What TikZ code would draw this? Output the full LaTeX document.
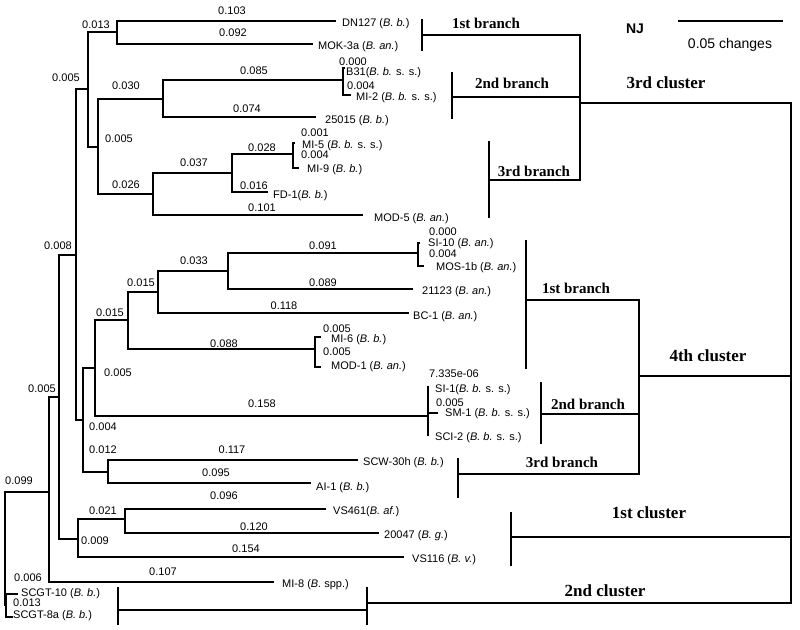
\documentclass[tikz,border=0pt]{standalone}
\usepackage{fontspec}
\setmainfont{Liberation Sans}
\newfontfamily\clfont{Liberation Serif}

\begin{document}
\begin{tikzpicture}[x=1pt,y=-1pt,
  br/.style={line width=1.1pt,line cap=rect},
  cl/.style={line width=2.3pt,line cap=rect},
  len/.style={font=\fontsize{11}{12}\selectfont,inner sep=0pt},
  leaf/.style={font=\fontsize{11}{12}\selectfont,anchor=west,inner sep=0pt},
  blab/.style={font=\clfont\bfseries\fontsize{15}{16}\selectfont,inner sep=0pt},
  clab/.style={font=\clfont\bfseries\fontsize{17}{18}\selectfont,inner sep=0pt}]
\useasboundingbox (0,0) rectangle (800,629);
% inner nodes of the tree
\coordinate (root) at (5,548);
\coordinate (n49) at (49,492);
\coordinate (nSC) at (6,605);
\coordinate (n59) at (59,397);
\coordinate (n76) at (76,255);
\coordinate (n78) at (78,539);
\coordinate (n88) at (88,89);
\coordinate (n83) at (83,420);
\coordinate (n117) at (117,32);
\coordinate (n98) at (98,147);
\coordinate (n163) at (163,99);
\coordinate (n153) at (153,194);
\coordinate (nB31) at (343,80);
\coordinate (n232) at (232,173);
\coordinate (n293) at (293,154);
\coordinate (n95) at (95,368);
\coordinate (n108) at (108,472);
\coordinate (n128) at (128,320);
\coordinate (nSM) at (428,416);
\coordinate (n158) at (158,292);
\coordinate (nMI6) at (315,349);
\coordinate (n228) at (228,271);
\coordinate (nSI10) at (418,253);
\coordinate (n125) at (125,519);
% leaf ends
\coordinate (SCGT10) at (17,594);
\coordinate (SCGT8a) at (12,617);
\coordinate (MI8) at (273,582);
\coordinate (DN127) at (335,21);
\coordinate (MOK3a) at (312,44);
\coordinate (B31) at (344,68);
\coordinate (MI2) at (350,95);
\coordinate (L25015) at (315,117);
\coordinate (MOD5) at (362,215);
\coordinate (FD1) at (267,192);
\coordinate (MI5) at (294,143);
\coordinate (MI9) at (298,168);
\coordinate (BC1) at (408,313);
\coordinate (L21123) at (412,289);
\coordinate (SI10) at (419,243);
\coordinate (MOS1b) at (423,266);
\coordinate (MI6) at (320,337);
\coordinate (MOD1) at (320,367);
\coordinate (SI1) at (428,387);
\coordinate (SM1) at (437,413);
\coordinate (SCI2) at (428,435);
\coordinate (SCW30h) at (357,460);
\coordinate (AI1) at (310,483);
\coordinate (VS116) at (403,557);
\coordinate (VS461) at (325,509);
\coordinate (L20047) at (378,533);

% branches
\draw[br] (root) |- (n49) (root) |- (nSC)
  (nSC) |- (SCGT10) (nSC) |- (SCGT8a)
  (n49) |- (n59) (n49) |- (MI8)
  (n59) |- (n76) (n59) |- (n78)
  (n76) |- (n88) (n76) |- (n83)
  (n88) |- (n117) (n88) |- (n98)
  (n117) |- (DN127) (n117) |- (MOK3a)
  (n98) |- (n163) (n98) |- (n153)
  (n163) |- (nB31) (n163) |- (L25015)
  (nB31) |- (B31) (nB31) |- (MI2)
  (n153) |- (n232) (n153) |- (MOD5)
  (n232) |- (n293) (n232) |- (FD1)
  (n293) |- (MI5) (n293) |- (MI9)
  (n83) |- (n95) (n83) |- (n108)
  (n95) |- (n128) (n95) |- (nSM)
  (n128) |- (n158) (n128) |- (nMI6)
  (n158) |- (n228) (n158) |- (BC1)
  (n228) |- (nSI10) (n228) |- (L21123)
  (nSI10) |- (SI10) (nSI10) |- (MOS1b)
  (nMI6) |- (MI6) (nMI6) |- (MOD1)
  (nSM) |- (SI1) (nSM) |- (SM1) (nSM) |- (SCI2)
  (n108) |- (SCW30h) (n108) |- (AI1)
  (n78) |- (n125) (n78) |- (VS116)
  (n125) |- (VS461) (n125) |- (L20047);

% branch lengths
\node[len] (l01) at (232,11) {0.103};
\node[len] (l02) at (233,33) {0.092};
\node[len] (l03) at (96,25) {0.013};
\node[len] (l04) at (66,78) {0.005};
\node[len] (l05) at (254,71) {0.085};
\node[len] (l06) at (126,86) {0.030};
\node[len] (l07) at (247,109) {0.074};
\node[len] (l08) at (119,139) {0.005};
\node[len] (l09) at (262,148) {0.028};
\node[len] (l10) at (194,163) {0.037};
\node[len] (l11) at (126,185) {0.026};
\node[len] (l12) at (254,186) {0.016};
\node[len] (l13) at (262,208) {0.101};
\node[len] (l14) at (353,62) {0.000};
\node[len] (l15) at (361,86) {0.004};
\node[len] (l16) at (315,133) {0.001};
\node[len] (l17) at (315,155) {0.004};
\node[len] (l18) at (58,246) {0.008};
\node[len] (l19) at (194,261) {0.033};
\node[len] (l20) at (141,283) {0.015};
\node[len] (l21) at (110,313) {0.015};
\node[len] (l22) at (284,306) {0.118};
\node[len] (l23) at (224,344) {0.088};
\node[len] (l24) at (118,373) {0.005};
\node[len] (l25) at (262,404) {0.158};
\node[len] (l26) at (42,389) {0.005};
\node[len] (l27) at (103,427) {0.004};
\node[len] (l28) at (323,246) {0.091};
\node[len] (l29) at (323,283) {0.089};
\node[len] (l30) at (443,232) {0.000};
\node[len] (l31) at (443,254) {0.004};
\node[len] (l32) at (337,329) {0.005};
\node[len] (l33) at (337,352) {0.005};
\node[len] (l34) at (454,374) {7.335e-06};
\node[len] (l35) at (450,403) {0.005};
\node[len] (l36) at (103,450) {0.012};
\node[len] (l37) at (232,450) {0.117};
\node[len] (l38) at (216,473) {0.095};
\node[len] (l39) at (19,481) {0.099};
\node[len] (l40) at (224,496) {0.096};
\node[len] (l41) at (103,511) {0.021};
\node[len] (l42) at (254,527) {0.120};
\node[len] (l43) at (95,541) {0.009};
\node[len] (l44) at (246,549) {0.154};
\node[len] (l45) at (163,572) {0.107};
\node[len] (l46) at (28,578) {0.006};
\node[len] (l47) at (27,603) {0.013};

% strain names
\node[leaf] (tDN127) at (342,24) {DN127 (\textit{B. b.})};
\node[leaf] (tMOK3a) at (318,47) {MOK-3a (\textit{B. an.})};
\node[leaf] (tB31) at (346,73) {B31(\textit{B. b.} s. s.)};
\node[leaf] (tMI2) at (356,98) {MI-2 (\textit{B. b.} s. s.)};
\node[leaf] (t25015) at (325,121) {25015 (\textit{B. b.})};
\node[leaf] (tMI5) at (302,146) {MI-5 (\textit{B. b.} s. s.)};
\node[leaf] (tMI9) at (307,170) {MI-9 (\textit{B. b.})};
\node[leaf] (tFD1) at (273,196) {FD-1(\textit{B. b.})};
\node[leaf] (tMOD5) at (374,219) {MOD-5 (\textit{B. an.})};
\node[leaf] (tSI10) at (428,244) {SI-10 (\textit{B. an.})};
\node[leaf] (tMOS1b) at (436,268) {MOS-1b (\textit{B. an.})};
\node[leaf] (t21123) at (422,292) {21123 (\textit{B. an.})};
\node[leaf] (tBC1) at (413,317) {BC-1 (\textit{B. an.})};
\node[leaf] (tMI6) at (331,340) {MI-6 (\textit{B. b.})};
\node[leaf] (tMOD1) at (331,367) {MOD-1 (\textit{B. an.})};
\node[leaf] (tSI1) at (435,390) {SI-1(\textit{B. b.} s. s.)};
\node[leaf] (tSM1) at (445,414) {SM-1 (\textit{B. b.} s. s.)};
\node[leaf] (tSCI2) at (435,438) {SCI-2 (\textit{B. b.} s. s.)};
\node[leaf] (tSCW30h) at (363,463) {SCW-30h (\textit{B. b.})};
\node[leaf] (tAI1) at (316,488) {AI-1 (\textit{B. b.})};
\node[leaf] (tVS461) at (333,512) {VS461(\textit{B. af.})};
\node[leaf] (t20047) at (384,536) {20047 (\textit{B. g.})};
\node[leaf] (tVS116) at (412,560) {VS116 (\textit{B. v.})};
\node[leaf] (tMI8) at (282,585) {MI-8 (\textit{B.} spp.)};
\node[leaf] (tSCGT10) at (21,594) {SCGT-10 (\textit{B. b.})};
\node[leaf] (tSCGT8a) at (13,616) {SCGT-8a (\textit{B. b.})};

% clusters and branches
\coordinate (top) at (791,376);
\coordinate (j3) at (580,103);
\coordinate (j4) at (639,376);
\coordinate (b1) at (422,35);
\coordinate (b2) at (452,97);
\coordinate (b3) at (489,180);
\coordinate (b41) at (526,300);
\coordinate (b42) at (541,414);
\coordinate (b43) at (458,474);
\coordinate (c1) at (511,537);
\coordinate (c2) at (367,603);
\coordinate (sg) at (118,610);
\draw[cl] (top) |- (j3) (top) |- (j4) (top) |- (c1) (top) |- (c2)
  (j3) |- (b1) (j3) |- (b2) (j3) |- (b3)
  (j4) |- (b41) (j4) |- (b42) (j4) |- (b43)
  (sg) -- (sg -| c2);
\draw[cl] (b1) ++(0,-15) -- ++(0,30);
\draw[cl] (b2) ++(0,-24) -- ++(0,45);
\draw[cl] (b3) ++(0,-38) -- ++(0,75);
\draw[cl] (b41) ++(0,-59) -- ++(0,127);
\draw[cl] (b42) ++(0,-31) -- ++(0,60);
\draw[cl] (b43) ++(0,-15) -- ++(0,38);
\draw[cl] (c1) ++(0,-24) -- ++(0,52);
\draw[cl] (c2) ++(0,-15) -- ++(0,36);
\draw[cl] (sg) ++(0,-22) -- ++(0,36);

\node[blab] (k1) at (486,23) {1st branch};
\node[blab] (k2) at (512,83) {2nd branch};
\node[blab] (k3) at (534,171) {3rd branch};
\node[clab] (kc3) at (666,83) {3rd cluster};
\node[blab] (k41) at (576,288) {1st branch};
\node[blab] (k42) at (588,404) {2nd branch};
\node[blab] (k43) at (562,462) {3rd branch};
\node[clab] (kc4) at (708,356) {4th cluster};
\node[clab] (kc1) at (649,513) {1st cluster};
\node[clab] (kc2) at (605,591) {2nd cluster};

% scale
\node[font=\bfseries\fontsize{14}{15}\selectfont,inner sep=0pt] (nj) at (635,29) {NJ};
\coordinate (s1) at (678,21);
\coordinate (s2) at (783,21);
\draw[line width=1.5pt] (s1) -- (s2);
\node[font=\fontsize{14}{15}\selectfont,inner sep=0pt] (sc) at (730,45) {0.05 changes};
\end{tikzpicture}
\end{document}
